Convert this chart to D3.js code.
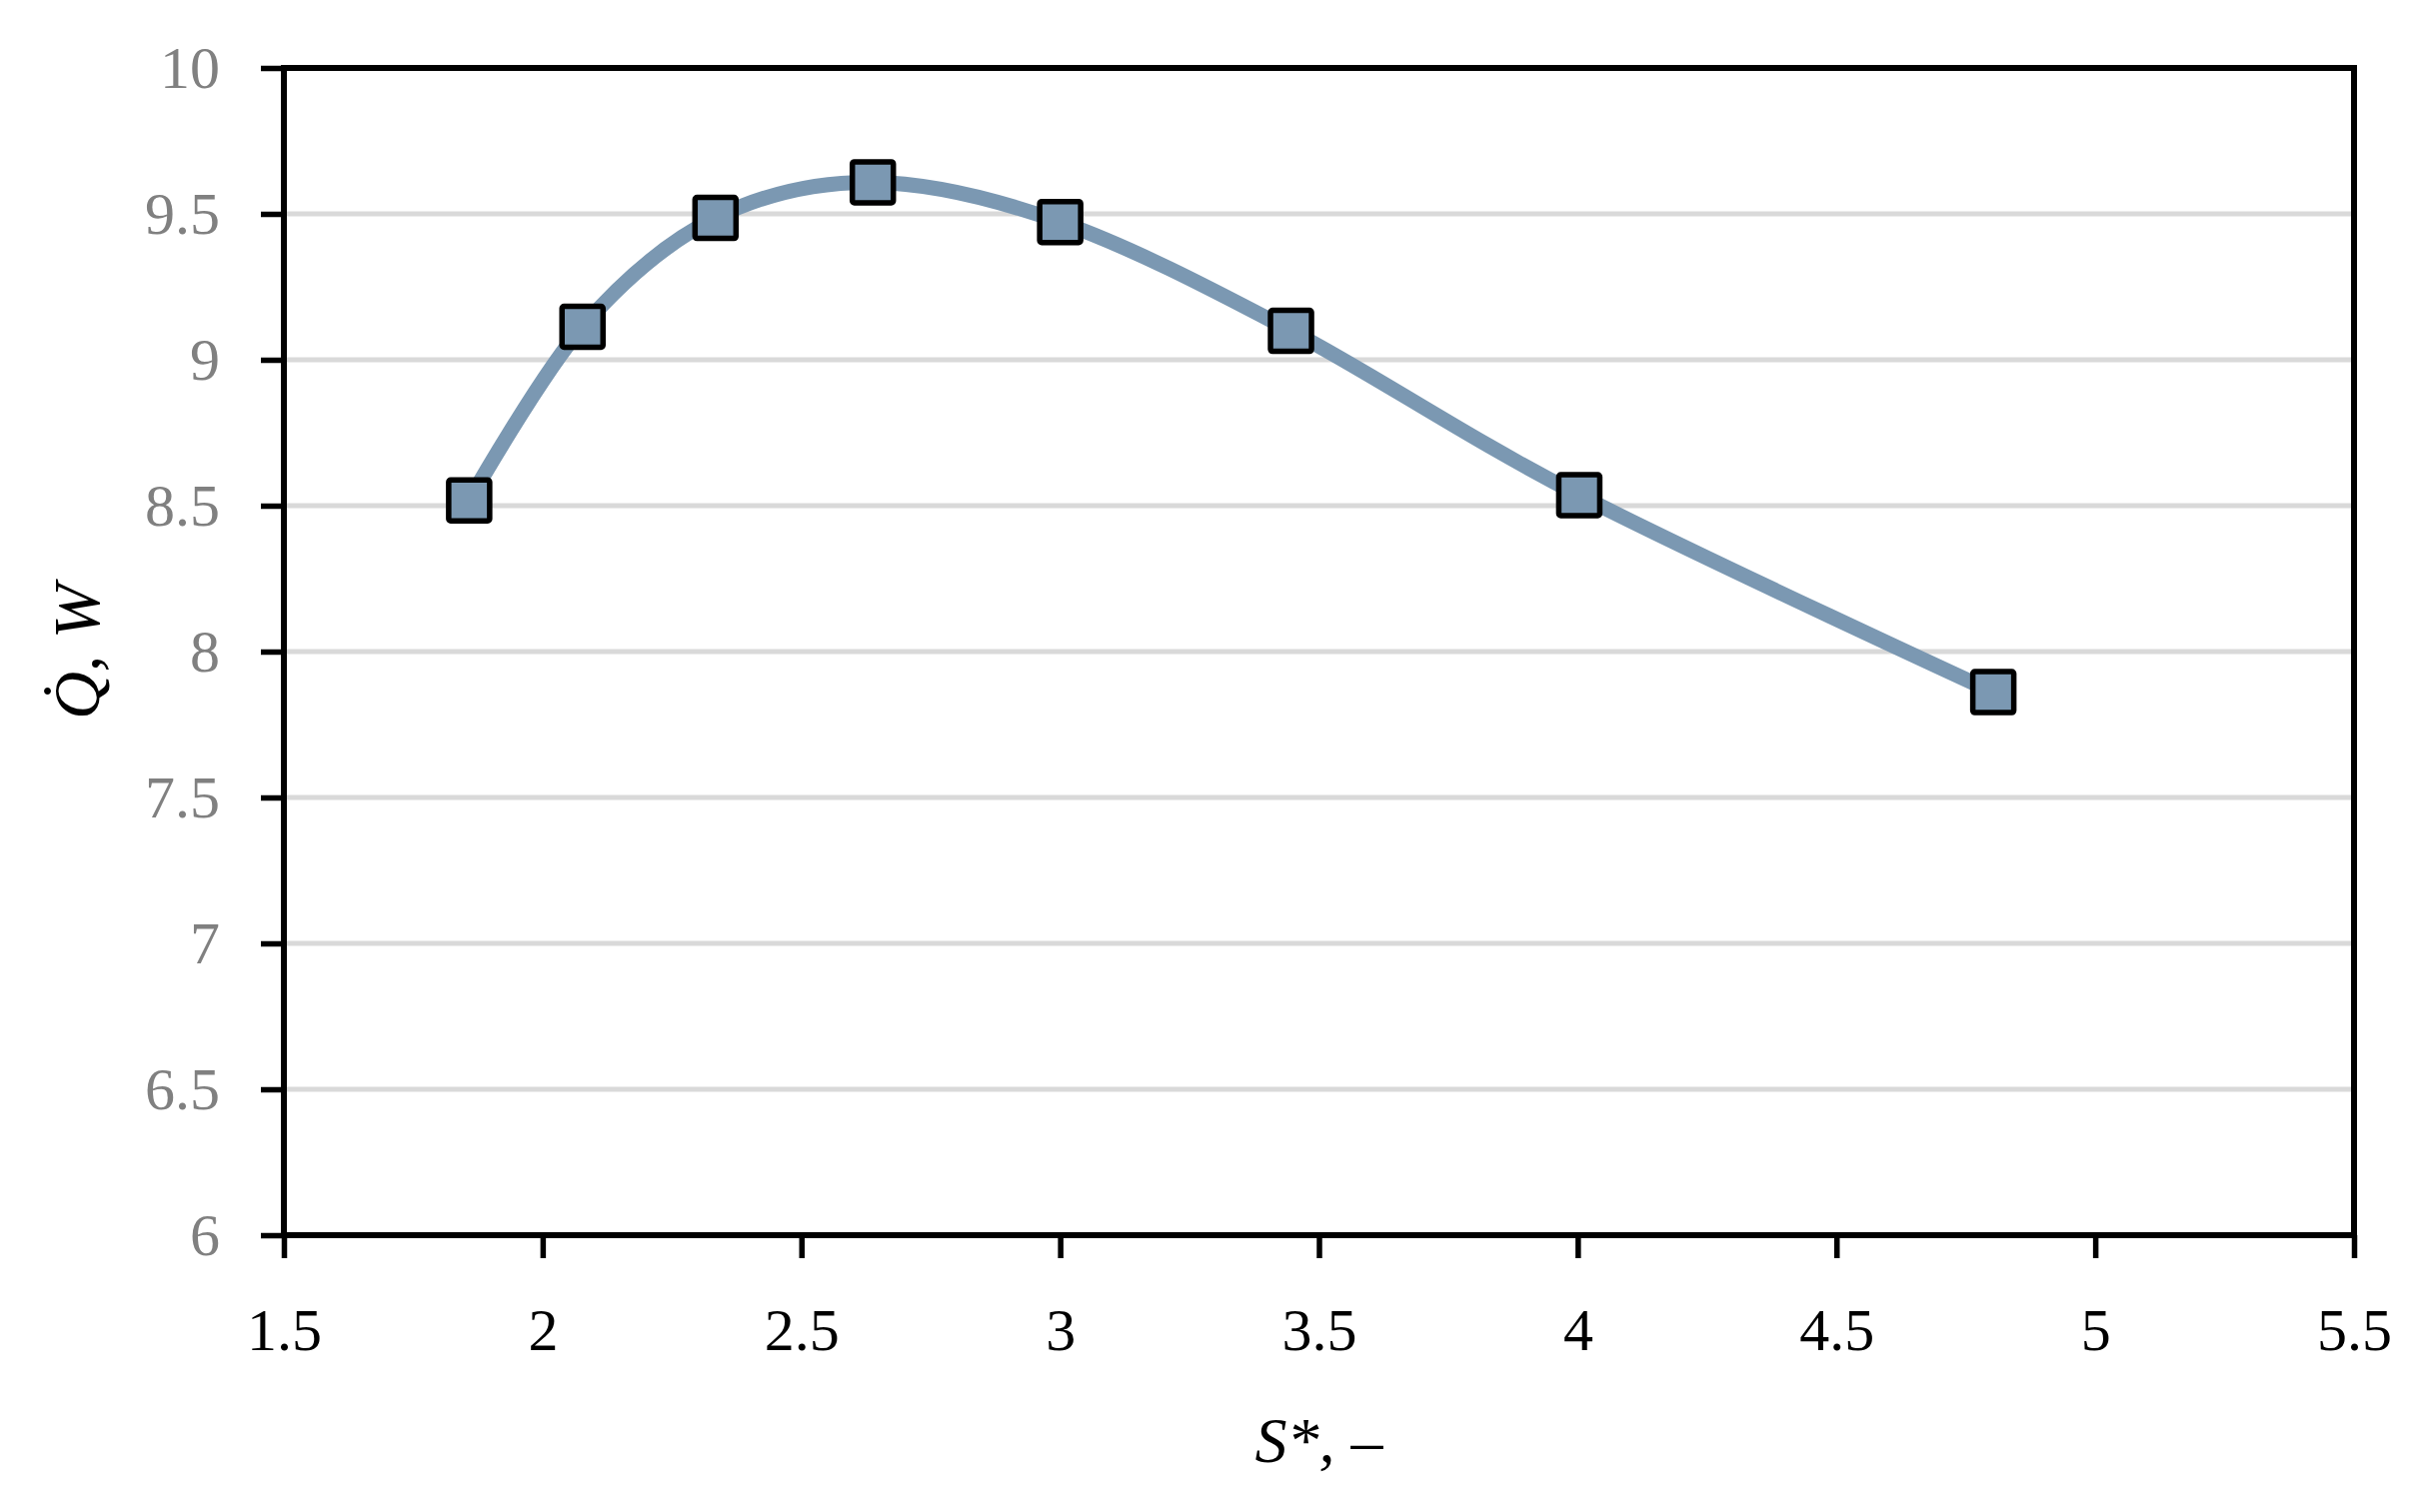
<!DOCTYPE html>
<html>
<head>
<meta charset="utf-8">
<script src="https://cdn.jsdelivr.net/npm/d3@7"></script>
<style>
  html, body { margin: 0; padding: 0; background: #fff; }
  svg text { font-family: "Palatino Linotype", "Book Antiqua", Palatino, "Liberation Serif", serif; }
</style>
</head>
<body>
<svg id="chart" width="2415" height="1513"></svg>
<script>
// S* values (x) and heat rate Q (y)
const sValues = [1.858, 2.077, 2.334, 2.638, 3.0, 3.446, 4.003, 4.803];
const qValues = [8.518, 9.113, 9.486, 9.608, 9.472, 9.099, 8.536, 7.861];
const xTicks = [1.5, 2, 2.5, 3, 3.5, 4, 4.5, 5, 5.5];
const yTicks = [6, 6.5, 7, 7.5, 8, 8.5, 9, 9.5, 10];

const W = 2415, H = 1513;
const margin = { top: 68, right: 60, bottom: 277, left: 284 };
const width = W - margin.left - margin.right;
const height = H - margin.top - margin.bottom;

const lineColor = '#7b98b2';

const svg = d3.select('#chart');
svg.append('rect').attr('width', W).attr('height', H).attr('fill', '#fff');

const g = svg.append('g').attr('transform', `translate(${margin.left},${margin.top})`);

const x = d3.scaleLinear().domain([1.5, 5.5]).range([0, width]);
const y = d3.scaleLinear().domain([6, 10]).range([height, 0]);

// gridlines
g.append('g')
  .selectAll('line')
  .data(yTicks.slice(1, -1))
  .enter()
  .append('line')
  .attr('x1', 0)
  .attr('x2', width)
  .attr('y1', d => y(d))
  .attr('y2', d => y(d))
  .attr('stroke', '#d9d9d9')
  .attr('stroke-width', 5);

// y axis
const yAxis = g.append('g')
  .call(d3.axisLeft(y).tickValues(yTicks).tickSize(23).tickSizeOuter(0).tickPadding(41)
    .tickFormat(d3.format('')));
yAxis.select('.domain').remove();
yAxis.selectAll('.tick line').attr('stroke', '#000').attr('stroke-width', 5.5);
yAxis.selectAll('.tick text')
  .attr('fill', '#808080')
  .attr('font-size', 60)
  .attr('font-family', '"Liberation Serif", serif');

// x axis
const xAxis = g.append('g')
  .attr('transform', `translate(0,${height})`)
  .call(d3.axisBottom(x).tickValues(xTicks).tickSize(23).tickSizeOuter(0).tickPadding(49)
    .tickFormat(d3.format('')));
xAxis.select('.domain').remove();
xAxis.selectAll('.tick line').attr('stroke', '#000').attr('stroke-width', 5.5);
xAxis.selectAll('.tick text')
  .attr('fill', '#000')
  .attr('font-size', 60)
  .attr('font-family', '"Liberation Serif", serif');

// frame
g.append('rect')
  .attr('x', 0)
  .attr('y', 0)
  .attr('width', width)
  .attr('height', height)
  .attr('fill', 'none')
  .attr('stroke', '#000')
  .attr('stroke-width', 6);

// smoothed line
const pts = sValues.map((s, i) => [s, qValues[i]]);
const line = d3.line()
  .x(d => x(d[0]))
  .y(d => y(d[1]))
  .curve(d3.curveCardinal.tension(0));

g.append('path')
  .datum(pts)
  .attr('d', line)
  .attr('fill', 'none')
  .attr('stroke', lineColor)
  .attr('stroke-width', 15);

// markers
const ms = 41;
g.selectAll('.marker')
  .data(pts)
  .enter()
  .append('rect')
  .attr('class', 'marker')
  .attr('x', d => x(d[0]) - ms / 2)
  .attr('y', d => y(d[1]) - ms / 2)
  .attr('width', ms)
  .attr('height', ms)
  .attr('rx', 2)
  .attr('fill', lineColor)
  .attr('stroke', '#000')
  .attr('stroke-width', 5.5);

// axis titles
svg.append('text')
  .attr('x', margin.left + width / 2)
  .attr('y', 1463)
  .attr('text-anchor', 'middle')
  .attr('font-size', 64)
  .attr('font-style', 'italic')
  .attr('font-family', '"Liberation Serif", serif')
  .text('S*, –');

svg.append('text')
  .attr('transform', `translate(99,${margin.top + height / 2}) rotate(-90)`)
  .attr('text-anchor', 'middle')
  .attr('font-size', 66)
  .attr('font-style', 'italic')
  .attr('font-family', '"Liberation Serif", serif')
  .text('Q\u0307, W');
</script>
</body>
</html>
